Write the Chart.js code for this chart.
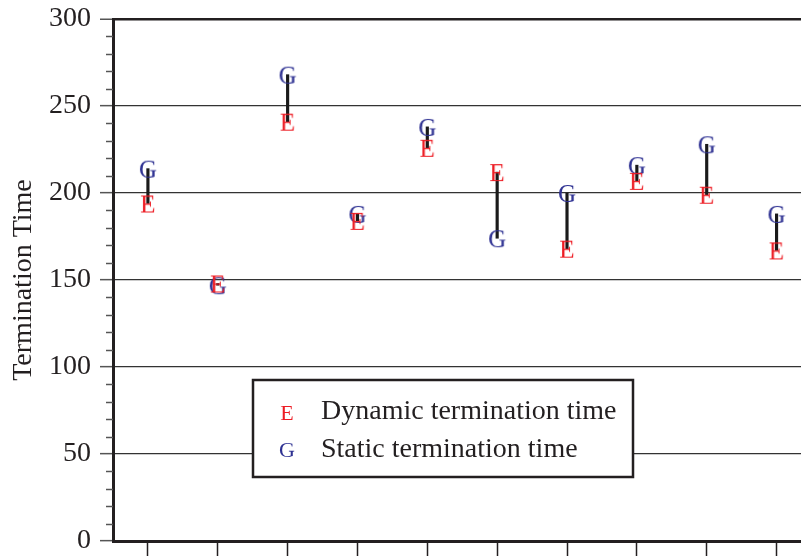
<!DOCTYPE html>
<html>
<head>
<meta charset="utf-8">
<script src="https://cdn.jsdelivr.net/npm/chart.js@4"></script>
<style>
  html, body { margin: 0; padding: 0; background: #fff; overflow: hidden; }
  #wrap { width: 801px; height: 556px; }
</style>
</head>
<body>
<div id="wrap"><canvas id="chart"></canvas></div>
<script>
// runs 1..10
const runs = [1, 2, 3, 4, 5, 6, 7, 8, 9, 10];
const dynamicTimes = [194, 148, 241, 184, 226, 212, 168, 207, 199, 167];
const staticTimes = [214, 147, 268, 188, 238, 174, 200, 216, 228, 188];
const yTicks = [0, 50, 100, 150, 200, 250, 300];

const RED = '#ed1c24';
const BLUE = '#2e3192';
const INK = '#231f20';
const SERIF = '"Liberation Serif", "Times New Roman", serif';

// letter markers (E / G) as small canvases for pointStyle
function letterMarker(ch, color, font) {
    const c = document.createElement('canvas');
    c.width = 30;
    c.height = 30;
    const ctx = c.getContext('2d');
    ctx.font = font;
    ctx.fillStyle = color;
    ctx.textAlign = 'center';
    ctx.textBaseline = 'alphabetic';
    const m = ctx.measureText(ch);
    const y = c.height / 2 + (m.actualBoundingBoxAscent - m.actualBoundingBoxDescent) / 2;
    ctx.fillText(ch, c.width / 2, y);
    return c;
}

const markerE = letterMarker('E', RED, '25px ' + SERIF);
const markerG = letterMarker('G', BLUE, '25px ' + SERIF);
const legendE = letterMarker('E', RED, '22px ' + SERIF);
const legendG = letterMarker('G', BLUE, '22px ' + SERIF);

// minor ticks on the y axis + legend box
const extras = {
    id: 'extras',
    afterDraw(chart) {
        const ctx = chart.ctx;
        const y = chart.scales.y;
        const left = chart.chartArea.left;
        ctx.save();
        ctx.strokeStyle = '#555';
        ctx.lineWidth = 1.5;
        for (let v = 0; v <= 300; v += 10) {
            if (v % 50 === 0) continue;
            const py = Math.round(y.getPixelForValue(v)) + 0.5;
            ctx.beginPath();
            ctx.moveTo(left - 7, py);
            ctx.lineTo(left, py);
            ctx.stroke();
        }

        // legend
        const bx = 253, by = 380, bw = 380, bh = 97;
        ctx.fillStyle = '#fff';
        ctx.fillRect(bx, by, bw, bh);
        ctx.strokeStyle = INK;
        ctx.lineWidth = 2.5;
        ctx.strokeRect(bx, by, bw, bh);

        const items = [
            { marker: legendE, label: chart.data.datasets[0].label, base: 419, cy: 413 },
            { marker: legendG, label: chart.data.datasets[1].label, base: 457, cy: 450 }
        ];
        ctx.font = '28px ' + SERIF;
        ctx.fillStyle = INK;
        ctx.textAlign = 'left';
        ctx.textBaseline = 'alphabetic';
        items.forEach(it => {
            const mk = it.marker;
            ctx.drawImage(mk, 287 - mk.width / 2, it.cy - mk.height / 2);
            ctx.fillText(it.label, 321, it.base);
        });
        ctx.restore();
    }
};

new Chart(document.getElementById('chart'), {
    type: 'scatter',
    data: {
        datasets: [
            {
                label: 'Dynamic termination time',
                data: runs.map((r, i) => ({ x: r, y: dynamicTimes[i] })),
                pointStyle: markerE,
                order: 1
            },
            {
                label: 'Static termination time',
                data: runs.map((r, i) => ({ x: r, y: staticTimes[i] })),
                pointStyle: markerG,
                order: 1
            },
            {
                type: 'bar',
                label: 'difference',
                data: runs.map((r, i) => ({ x: r, y: [dynamicTimes[i], staticTimes[i]] })),
                backgroundColor: '#1a1a1a',
                borderWidth: 0,
                barThickness: 2.5,
                order: 2
            }
        ]
    },
    options: {
        responsive: true,
        maintainAspectRatio: false,
        animation: false,
        layout: { autoPadding: false, padding: { top: 19, right: 0, bottom: 0, left: 0 } },
        plugins: {
            legend: { display: false },
            tooltip: { enabled: false }
        },
        scales: {
            x: {
                type: 'linear',
                min: 0.5,
                max: 10.35,
                offset: false,
                afterBuildTicks: scale => {
                    scale.ticks = runs.map(r => ({ value: r }));
                },
                afterFit: scale => {
                    scale.height = 15;
                    scale.paddingLeft = 0;
                    scale.paddingRight = 0;
                },
                ticks: { display: false },
                grid: {
                    offset: false,
                    drawOnChartArea: false,
                    drawTicks: true,
                    tickLength: 15,
                    tickColor: INK,
                    tickWidth: 1.5
                },
                border: { display: true, color: INK, width: 3 }
            },
            y: {
                min: 0,
                max: 300,
                afterBuildTicks: scale => {
                    scale.ticks = yTicks.map(v => ({ value: v }));
                },
                afterFit: scale => {
                    scale.width = 113;
                    scale.paddingTop = 0;
                    scale.paddingBottom = 0;
                },
                ticks: {
                    padding: 9,
                    color: INK,
                    font: { family: SERIF, size: 28, lineHeight: 1 }
                },
                grid: {
                    color: ctx => ctx.tick && ctx.tick.value === 0 ? 'rgba(0,0,0,0)' : (ctx.tick && ctx.tick.value === 300 ? INK : '#333'),
                    lineWidth: ctx => ctx.tick && ctx.tick.value === 300 ? 2.5 : 1.3,
                    drawTicks: true,
                    tickLength: 13,
                    tickColor: '#555',
                    tickWidth: 1.5
                },
                border: { display: true, color: INK, width: 3 },
                title: {
                    display: true,
                    text: 'Termination Time',
                    color: INK,
                    font: { family: SERIF, size: 28, lineHeight: 1.2 },
                    padding: { top: 7, bottom: 0 }
                }
            }
        }
    },
    plugins: [extras]
});
</script>
</body>
</html>
